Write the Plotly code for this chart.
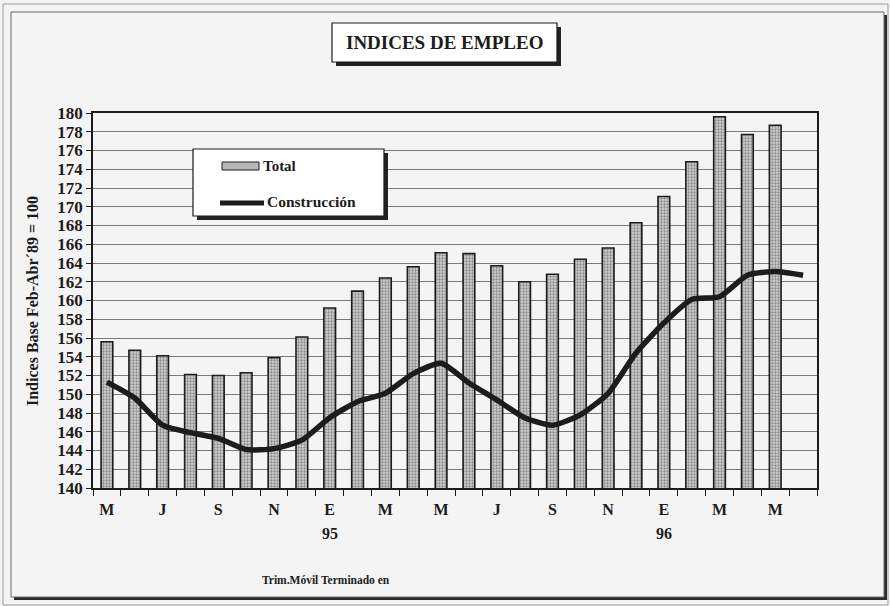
import plotly.graph_objects as go

# ---- data ----
months = ["M", "J", "J", "A", "S", "O", "N", "D", "E", "F", "M", "A", "M",
          "J", "J", "A", "S", "O", "N", "D", "E", "F", "M", "A", "M", "J"]
total = [155.6, 154.7, 154.1, 152.1, 152.0, 152.3, 153.9, 156.1, 159.2, 161.0,
         162.4, 163.6, 165.1, 165.0, 163.7, 162.0, 162.8, 164.4, 165.6, 168.3,
         171.1, 174.8, 179.6, 177.7, 178.7, None]
construccion = [151.3, 149.6, 146.7, 145.9, 145.3, 144.1, 144.2, 145.1, 147.5, 149.2,
                150.1, 152.2, 153.3, 151.2, 149.4, 147.5, 146.7, 147.8, 150.1, 154.4,
                157.6, 160.1, 160.4, 162.7, 163.1, 162.7]
tick_idx = [0, 2, 4, 6, 8, 10, 12, 14, 16, 18, 20, 22, 24]
tick_text = ["M", "J", "S", "N", "E", "M", "M", "J", "S", "N", "E", "M", "M"]
year_idx = [8, 20]
year_text = ["95", "96"]
y_ticks = list(range(140, 181, 2))

x = list(range(len(months)))

# ---- pixel helpers (plot area in pixels) ----
L, R, T, B = 93, 817, 113, 488
W, H = R - L, B - T
def px(v):
    return (v - L) / W
def py(v):
    return (B - v) / H

FONT = "Liberation Serif"
INK = "#1c1c1c"

fig = go.Figure()
fig.add_trace(go.Bar(
    x=x, y=total, width=0.42, name="Total",
    marker=dict(color="#c8c8c8", line=dict(color=INK, width=1.6),
                pattern=dict(shape=".", fgcolor="#444444", bgcolor="#d0d0d0",
                             size=3, solidity=0.45)),
    showlegend=False,
))
fig.add_trace(go.Scatter(
    x=x, y=construccion, mode="lines", name="Construcción",
    line=dict(color=INK, width=5.5, shape="spline", smoothing=0.6),
    showlegend=False,
))

shapes = []
def rect(x0, y0, x1, y1, fill=None, line_color=None, lw=1, layer="above"):
    shapes.append(dict(type="rect", xref="paper", yref="paper",
                       x0=px(x0), x1=px(x1), y0=py(y1), y1=py(y0),
                       fillcolor=fill if fill else "rgba(0,0,0,0)",
                       line=dict(color=line_color if line_color else "rgba(0,0,0,0)", width=lw),
                       layer=layer))

# page frame
rect(3, 4, 888, 605, line_color="#9a9a9a", lw=1, layer="below")
rect(14, 15, 887, 600, fill="#2a2a2a", layer="below")
rect(11, 12, 884, 597, fill="#f4f4f4", line_color="#6a6a6a", lw=1, layer="below")
# title box
rect(336, 27, 561, 66, fill="#222222")
rect(332, 23, 557, 62, fill="white", line_color=INK, lw=1.2)
# legend box
rect(197, 153, 388, 220, fill="#222222")
rect(193, 149, 384, 216, fill="white", line_color=INK, lw=1.2)
# legend swatches
rect(222, 162, 259, 170, fill="#b8b8b8", line_color=INK, lw=1)
shapes.append(dict(type="line", xref="paper", yref="paper",
                   x0=px(220), x1=px(264), y0=py(203), y1=py(203),
                   line=dict(color=INK, width=5), layer="above"))

def ann(text, x, y, size, xanchor="center", angle=0, xref="paper"):
    return dict(text=text, xref=xref, yref="paper", x=x, y=y,
                xanchor=xanchor, yanchor="middle", textangle=angle,
                showarrow=False, font=dict(family=FONT, size=size, color=INK))

annotations = [
    ann("<b>INDICES DE EMPLEO</b>", px(444), py(43), 19),
    ann("<b>Total</b>", px(261), py(166), 15, xanchor="left"),
    ann("<b>Construcción</b>", px(265), py(201), 15.5, xanchor="left"),
    ann("<b>Indices Base Feb-Abr´89 = 100</b>", px(32), py(301), 16, angle=-90),
    ann("<b>Trim.Móvil Terminado en</b>", px(326), py(580), 11.5),
]
for i, t in zip(year_idx, year_text):
    annotations.append(ann("<b>%s</b>" % t, i, py(533), 16, xref="x"))

fig.update_layout(
    width=890, height=606,
    margin=dict(l=L, r=890 - R, t=T, b=606 - B, pad=0),
    paper_bgcolor="#f4f4f4", plot_bgcolor="white",
    shapes=shapes, annotations=annotations,
    xaxis=dict(range=[-0.5, len(months) - 0.5], tickmode="array",
               tickvals=tick_idx, ticktext=["<b>%s</b>" % t for t in tick_text],
               ticks="", ticklabelstandoff=6,
               tickfont=dict(family=FONT, size=16, color=INK),
               showgrid=False, zeroline=False,
               showline=True, linecolor=INK, linewidth=1.5, mirror=True,
               minor=dict(tickmode="array",
                          tickvals=[i - 0.5 for i in range(len(months) + 1)],
                          ticks="outside", ticklen=6, tickcolor=INK, tickwidth=1)),
    yaxis=dict(range=[140, 180], tickmode="array", tickvals=y_ticks,
               ticktext=["<b>%d</b>" % v for v in y_ticks],
               ticks="outside", ticklen=5, tickcolor=INK,
               tickfont=dict(family=FONT, size=17, color=INK),
               showgrid=True, gridcolor="#7a7a7a", gridwidth=1,
               zeroline=False, showline=True, linecolor=INK, linewidth=1.5, mirror=True),
)

fig.write_html("out.html", config={"displayModeBar": False},
               post_script="document.body.style.margin='0';document.body.style.overflow='hidden';")
